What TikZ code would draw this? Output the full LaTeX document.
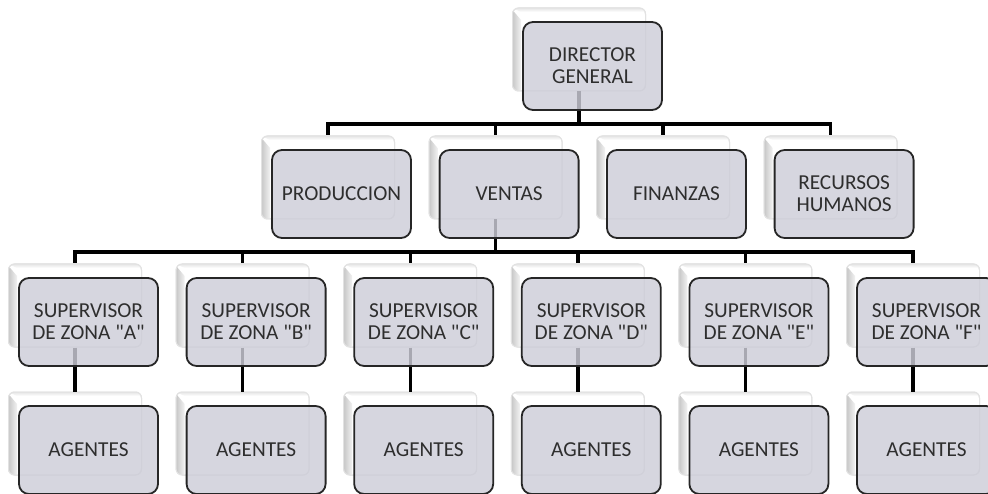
\documentclass[tikz,border=0pt]{standalone}
\usepackage{fontspec}
\newfontfamily\carl{Carlito}
\usetikzlibrary{calc}
\definecolor{boxfill}{HTML}{CDCDD8}
\definecolor{txt}{HTML}{2E2E2E}
\definecolor{frameline}{HTML}{E2E2E2}
\tikzset{
  backframe/.style={draw=frameline, line width=1pt, fill=white, rounded corners=6pt,
    minimum width=133pt, minimum height=83pt, inner sep=0pt},
  frontbox/.style={draw=black!85, line width=1.8pt, fill=boxfill, fill opacity=0.82, text opacity=1,
    rounded corners=10pt, minimum width=139pt, minimum height=88pt, inner sep=0pt,
    align=center, text=txt, font=\carl\fontsize{21.3}{22}\selectfont},
  conn/.style={line width=3.4pt, black, line join=miter}
}
\newcommand\orgunit[3]{% name, cx, top
  \node[backframe] (#1B) at (#2,#3+41.5) {};
  \begin{scope}
    \clip[rounded corners=6pt] (#2-66.5,#3) rectangle (#2+66.5,#3+83);
    \shade[left color=black!22, right color=black!5] (#2-66.5,#3+2) -- (#2-58,#3+12) -- (#2-58,#3+83) -- (#2-66.5,#3+83) -- cycle;
    \shade[top color=black!10, bottom color=white] (#2-66.5,#3) -- (#2+66.5,#3) -- (#2+66.5,#3+4) -- (#2-58,#3+4) -- cycle;
  \end{scope}
  \draw[frameline, line width=1pt, rounded corners=6pt] (#2-66.5,#3) rectangle (#2+66.5,#3+83);
}
\newcommand\orgfront[4]{%
  \node[frontbox] (#1) at (#2+13.5,#3+58) {#4};
}
\begin{document}
\begin{tikzpicture}[x=1pt,y=-1pt]
\useasboundingbox (0,0) rectangle (988,494);
\clip (0,0) rectangle (988,494);
% back frames
\orgunit{dir}{579}{8}
\orgunit{prod}{328}{136}
\orgunit{ven}{495.6}{136}
\orgunit{fin}{663}{136}
\orgunit{rh}{830.6}{136}
\orgunit{sa}{75}{264}
\orgunit{sb}{242.6}{264}
\orgunit{sc}{410.2}{264}
\orgunit{sd}{577.8}{264}
\orgunit{se}{745.4}{264}
\orgunit{sf}{913}{264}
\orgunit{aa}{75}{392}
\orgunit{ab}{242.6}{392}
\orgunit{ac}{410.2}{392}
\orgunit{ad}{577.8}{392}
\orgunit{ae}{745.4}{392}
\orgunit{af}{913}{392}
% bar levels
\coordinate (bar2) at (0,124);
\coordinate (bar3) at (0,252);
% connectors
\foreach \c in {prod,ven,fin,rh}
  \draw[conn] (dirB.south) -- (dirB.south |- bar2) -| (\c B.north);
\foreach \c in {sa,sb,sc,sd,se,sf}
  \draw[conn] (venB.south) -- (venB.south |- bar3) -| (\c B.north);
\foreach \s/\a in {sa/aa,sb/ab,sc/ac,sd/ad,se/ae,sf/af}
  \draw[conn] (\s B.south) -- (\a B.north);
% front boxes
\orgfront{dir}{579}{8}{DIRECTOR\\GENERAL}
\orgfront{prod}{328}{136}{PRODUCCION}
\orgfront{ven}{495.6}{136}{VENTAS}
\orgfront{fin}{663}{136}{FINANZAS}
\orgfront{rh}{830.6}{136}{RECURSOS\\HUMANOS}
\orgfront{sa}{75}{264}{SUPERVISOR\\DE ZONA "A"}
\orgfront{sb}{242.6}{264}{SUPERVISOR\\DE ZONA "B"}
\orgfront{sc}{410.2}{264}{SUPERVISOR\\DE ZONA "C"}
\orgfront{sd}{577.8}{264}{SUPERVISOR\\DE ZONA "D"}
\orgfront{se}{745.4}{264}{SUPERVISOR\\DE ZONA "E"}
\orgfront{sf}{913}{264}{SUPERVISOR\\DE ZONA "F"}
\orgfront{aa}{75}{392}{AGENTES}
\orgfront{ab}{242.6}{392}{AGENTES}
\orgfront{ac}{410.2}{392}{AGENTES}
\orgfront{ad}{577.8}{392}{AGENTES}
\orgfront{ae}{745.4}{392}{AGENTES}
\orgfront{af}{913}{392}{AGENTES}
\end{tikzpicture}
\end{document}
